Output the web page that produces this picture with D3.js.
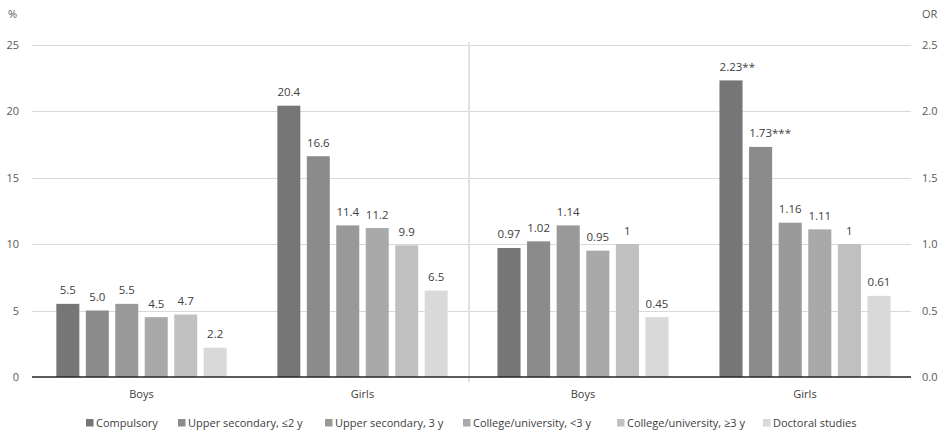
<!DOCTYPE html>
<html>
<head>
<meta charset="utf-8">
<script src="https://cdn.jsdelivr.net/npm/d3@7"></script>
<style>
  html, body { margin: 0; padding: 0; background: #fff; }
  svg { display: block; font-family: "Open Sans", sans-serif; }
</style>
</head>
<body>
<svg id="chart" width="946" height="433"></svg>
<script>
// Education levels (series) and the two sex groups
const levels = ["Compulsory", "Upper secondary, \u22642 y", "Upper secondary, 3 y",
                "College/university, <3 y", "College/university, \u22653 y", "Doctoral studies"];
const groups = ["Boys", "Girls"];
const levelColors = ["#767676", "#8b8b8b", "#999999", "#a9a9a9", "#c0c0c0", "#d9d9d9"];

// Left panel: prevalence in percent
const pctBoys = [5.5, 5.0, 5.5, 4.5, 4.7, 2.2];
const pctGirls = [20.4, 16.6, 11.4, 11.2, 9.9, 6.5];

// Right panel: odds ratios and their significance markers
const orBoys = [0.97, 1.02, 1.14, 0.95, 1, 0.45];
const orGirls = [2.23, 1.73, 1.16, 1.11, 1, 0.61];
const orBoysStars = ["", "", "", "", "", ""];
const orGirlsStars = ["**", "***", "", "", "", ""];

const pctTicks = [0, 5, 10, 15, 20, 25];
const orTicks = [0, 0.5, 1.0, 1.5, 2.0, 2.5];

const svg = d3.select("#chart");
const plotTop = 44.5, plotBottom = 377;
const gridLeft = 32, gridRight = 911;
const dividerX = 469;

const yPct = d3.scaleLinear().domain([0, 25]).range([plotBottom, plotTop]);
const yOR = d3.scaleLinear().domain([0, 2.5]).range([plotBottom, plotTop]);

// Gridlines
svg.append("g").selectAll("line").data(pctTicks.filter(d => d > 0)).join("line")
  .attr("x1", gridLeft).attr("x2", gridRight)
  .attr("y1", d => Math.round(yPct(d)) + 0.5).attr("y2", d => Math.round(yPct(d)) + 0.5)
  .attr("stroke", "#d9d9d9").attr("stroke-width", 1);

// Panel divider
svg.append("line")
  .attr("x1", dividerX).attr("x2", dividerX).attr("y1", 42).attr("y2", 382)
  .attr("stroke", "#e2e2e2").attr("stroke-width", 2);

function drawPanel(range, y, seriesByGroup, fmt, starsByGroup) {
  const x0 = d3.scaleBand().domain(groups).range(range).paddingInner(0.2).paddingOuter(0.1);
  const x1 = d3.scaleBand().domain(d3.range(levels.length)).range([0, x0.bandwidth()])
    .paddingInner(0.22).paddingOuter(0.11);

  const g = svg.append("g");
  groups.forEach((grp, gi) => {
    const vals = seriesByGroup[gi];
    const stars = starsByGroup[gi];
    const gg = g.append("g").attr("transform", `translate(${x0(grp)},0)`);
    gg.selectAll("rect").data(vals).join("rect")
      .attr("x", (d, i) => x1(i))
      .attr("width", x1.bandwidth())
      .attr("y", d => y(d))
      .attr("height", d => y(0) - y(d))
      .attr("fill", (d, i) => levelColors[i]);
    // value centred over the bar, significance stars trailing after it
    vals.forEach((d, i) => {
      const cx = x1(i) + x1.bandwidth() / 2;
      const num = gg.append("text")
        .attr("x", cx)
        .attr("y", y(d) - 9.5)
        .attr("text-anchor", "middle")
        .attr("font-size", 11.5)
        .attr("fill", "#404040")
        .text(fmt(d));
      if (stars[i]) {
        const w = num.node().getComputedTextLength();
        gg.append("text")
          .attr("x", cx + w / 2)
          .attr("y", y(d) - 9.5)
          .attr("font-size", 11.5)
          .attr("fill", "#404040")
          .text(stars[i]);
      }
    });
    svg.append("text")
      .attr("x", x0(grp) + x0.bandwidth() / 2)
      .attr("y", 398)
      .attr("text-anchor", "middle")
      .attr("font-size", 11)
      .attr("fill", "#404040")
      .text(grp);
  });
}

drawPanel([31, 473], yPct, [pctBoys, pctGirls], d => d.toFixed(1),
  [["", "", "", "", "", ""], ["", "", "", "", "", ""]]);
drawPanel([472, 916], yOR, [orBoys, orGirls], d => String(d), [orBoysStars, orGirlsStars]);

// Baseline
svg.append("line")
  .attr("x1", gridLeft).attr("x2", gridRight).attr("y1", plotBottom).attr("y2", plotBottom)
  .attr("stroke", "#262626").attr("stroke-width", 1.5);

// Left axis (percent)
const leftAxis = d3.axisLeft(yPct).tickValues(pctTicks).tickSize(0).tickPadding(0)
  .tickFormat(d3.format("d"));
svg.append("g").attr("transform", "translate(19,0)").call(leftAxis)
  .call(g => g.select(".domain").remove())
  .call(g => g.selectAll("text").attr("font-family", "Open Sans, sans-serif")
    .attr("font-size", 11).attr("fill", "#595959").attr("dy", "0.35em"));

// Right axis (odds ratio)
const rightAxis = d3.axisRight(yOR).tickValues(orTicks).tickSize(0).tickPadding(0)
  .tickFormat(d3.format(".1f"));
svg.append("g").attr("transform", "translate(922,0)").call(rightAxis)
  .call(g => g.select(".domain").remove())
  .call(g => g.selectAll("text").attr("font-family", "Open Sans, sans-serif")
    .attr("font-size", 11).attr("fill", "#595959").attr("dy", "0.35em"));

// Axis titles
svg.append("text").attr("x", 8).attr("y", 18).attr("font-size", 11).attr("fill", "#595959").text("%");
svg.append("text").attr("x", 922).attr("y", 18).attr("font-size", 11).attr("fill", "#595959").text("OR");

// Legend
const legendX = [86, 178, 325, 463, 617, 763];
const legend = svg.append("g");
levels.forEach((name, i) => {
  legend.append("rect").attr("x", legendX[i]).attr("y", 419).attr("width", 7.5).attr("height", 7.5)
    .attr("fill", levelColors[i]);
  legend.append("text").attr("x", legendX[i] + 10).attr("y", 427)
    .attr("font-size", 11).attr("fill", "#404040").text(name);
});
</script>
</body>
</html>
